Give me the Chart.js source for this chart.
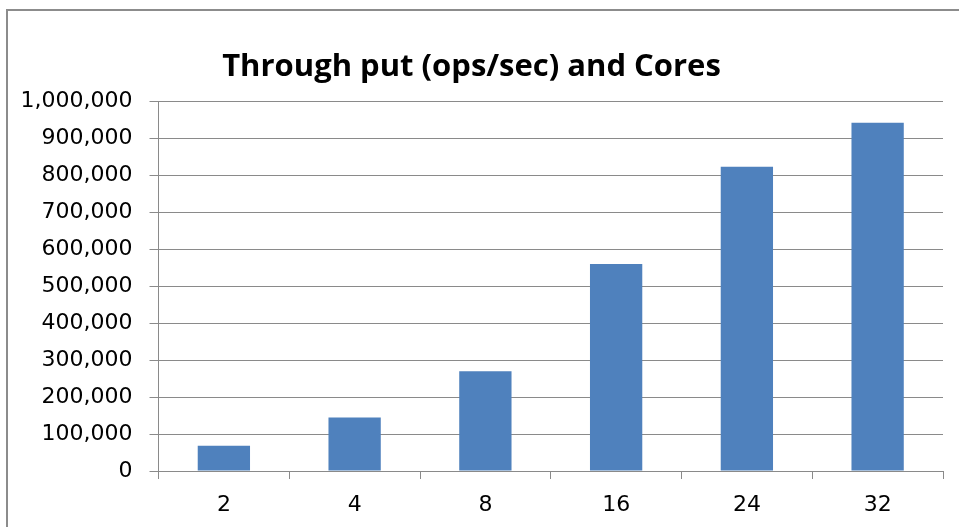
<!DOCTYPE html>
<html>
<head>
<meta charset="utf-8">
<script src="https://cdn.jsdelivr.net/npm/chart.js@4"></script>
<style>
  html, body { margin: 0; padding: 0; background: #ffffff; }
  #wrap { position: relative; width: 959px; height: 527px; overflow: hidden; }
  #frame {
    position: absolute; left: 6px; top: 9px; width: 1000px; height: 600px;
    border-left: 2px solid #8c8c8c; border-top: 2px solid #8c8c8c;
  }
  #c { position: absolute; left: 0; top: 0; }
</style>
</head>
<body>
<div id="wrap">
  <div id="frame"></div>
  <canvas id="c" width="959" height="527"></canvas>
</div>
<script>
// Throughput measured for each core count
const cores = ['2', '4', '8', '16', '24', '32'];
const throughput = [68000, 145000, 270000, 560000, 823000, 942000];
const chartTitle = 'Through put (ops/sec) and Cores';

const gridGray = '#8a8a8a';
const labelFont = '"DejaVu Sans", Verdana, sans-serif';

new Chart(document.getElementById('c'), {
  type: 'bar',
  data: {
    labels: cores,
    datasets: [{
      label: 'Throughput',
      data: throughput,
      backgroundColor: '#4f81bd',
      borderWidth: 0,
      categoryPercentage: 1.0,
      barPercentage: 0.4
    }]
  },
  options: {
    responsive: false,
    animation: false,
    layout: { padding: { left: 0, right: 16, top: 0, bottom: 0 } },
    plugins: {
      legend: { display: false },
      tooltip: { enabled: false },
      title: {
        display: true,
        text: chartTitle,
        color: '#000000',
        font: { family: '"Open Sans", sans-serif', size: 31, weight: 'bold', lineHeight: 1.2 },
        padding: { top: 49, bottom: 15 }
      }
    },
    scales: {
      x: {
        offset: true,
        afterFit: function (scale) {
          scale.height = 56;
          scale.paddingLeft = 0;
          scale.paddingRight = 0;
        },
        grid: {
          offset: true,
          drawOnChartArea: false,
          drawTicks: true,
          tickLength: 8,
          color: gridGray,
          tickColor: gridGray
        },
        border: { color: gridGray, width: 1 },
        ticks: {
          color: '#000000',
          font: { family: labelFont, size: 22, lineHeight: 1 },
          padding: 15,
          maxRotation: 0
        }
      },
      y: {
        min: 0,
        max: 1000000,
        afterFit: function (scale) {
          scale.width = 158.5;
          scale.paddingTop = 0;
          scale.paddingBottom = 0;
        },
        grid: {
          color: gridGray,
          tickColor: gridGray,
          tickLength: 9,
          lineWidth: 1
        },
        border: { color: gridGray, width: 1 },
        ticks: {
          stepSize: 100000,
          color: '#000000',
          font: { family: labelFont, size: 22 },
          padding: 17,
          callback: function (v) { return Number(v).toLocaleString('en-US'); }
        }
      }
    }
  }
});
</script>
</body>
</html>
